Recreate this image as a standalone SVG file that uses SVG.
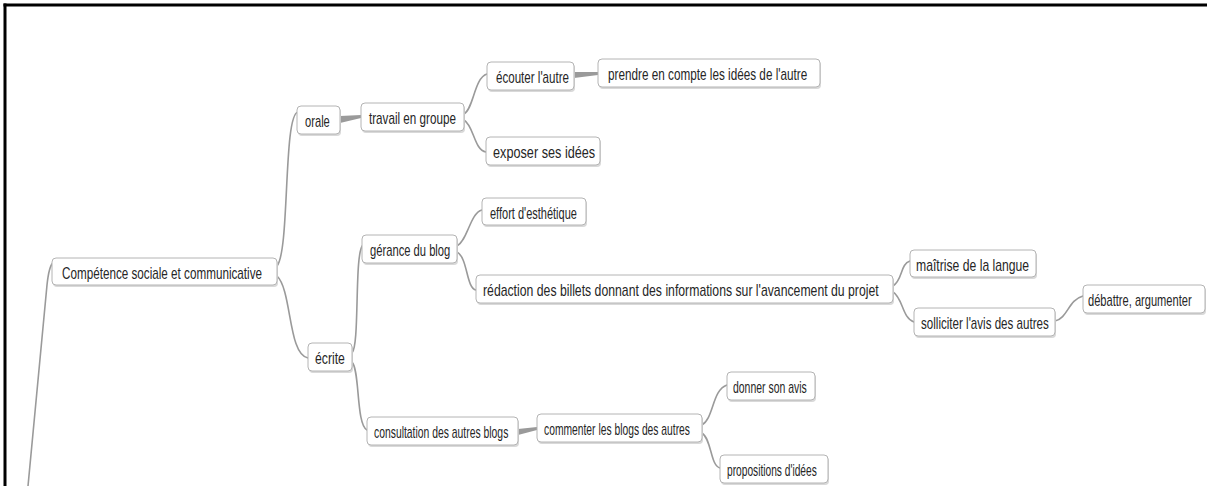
<svg xmlns="http://www.w3.org/2000/svg" width="1207" height="486" viewBox="0 0 1207 486">
<style>
.box{fill:#ffffff;stroke:#b4b4b4;stroke-width:1}
.sh{fill:#d9d9d9}
.t{font-family:"Liberation Sans",Arial,sans-serif;font-size:16px;fill:#262626}
.c{fill:none;stroke:#9a9a9a;stroke-width:1.6;stroke-linecap:round}
.w{fill:#9a9a9a}
.frame{stroke:#000;stroke-width:3}
</style>
<rect x="0" y="0" width="1207" height="486" fill="#fff"/>
<line class="frame" x1="5" y1="3.5" x2="5" y2="486"/>
<line class="frame" x1="3.5" y1="5" x2="1207" y2="5"/>
<g id="connectors">
<path class="c" d="M28,486 L47,285 Q49,266 53,263"/>
<path class="c" d="M277,266 C290,250 283,115 298,112"/>
<path class="c" d="M277,276 C292,290 288,355 308,358"/>
<path class="w" d="M340,116 L361,115 L361,118 L340,123 Z"/>
<path class="c" d="M464,114 C474,108 474,78 487,74"/>
<path class="c" d="M464,120 C474,126 474,150 486,152"/>
<path class="w" d="M574,72 L598,72 L598,75 L574,78 Z"/>
<path class="c" d="M352,353 C360,345 354,252 363,245"/>
<path class="c" d="M352,362 C360,370 356,425 367,430"/>
<path class="c" d="M457,246 C468,240 470,213 482,210"/>
<path class="c" d="M457,252 C468,258 466,288 476,290"/>
<path class="c" d="M893,286 C903,280 900,264 910,261"/>
<path class="c" d="M893,292 C903,298 902,318 914,322"/>
<path class="c" d="M1055,321 C1068,318 1068,300 1083,296"/>
<path class="w" d="M518,429 L537,427 L537,430 L518,435 Z"/>
<path class="c" d="M702,425 C714,418 712,390 727,385"/>
<path class="c" d="M702,433 C712,440 710,465 720,468"/>
</g>
<g id="n-root"><rect class="sh" x="53" y="260" width="225" height="27" rx="4"/><rect class="box" x="52" y="258" width="225" height="27" rx="4"/><text class="t" transform="translate(62,279) scale(0.73,1)" textLength="274" lengthAdjust="spacingAndGlyphs">Compétence sociale et communicative</text></g>
<g id="n-orale"><rect class="sh" x="298" y="108" width="43" height="28" rx="4"/><rect class="box" x="297" y="106" width="43" height="28" rx="4"/><text class="t" transform="translate(305,127) scale(0.73,1)" textLength="34" lengthAdjust="spacingAndGlyphs">orale</text></g>
<g id="n-travail"><rect class="sh" x="362" y="105" width="103" height="28" rx="4"/><rect class="box" x="361" y="103" width="103" height="28" rx="4"/><text class="t" transform="translate(369,124) scale(0.73,1)" textLength="119" lengthAdjust="spacingAndGlyphs">travail en groupe</text></g>
<g id="n-ecouter"><rect class="sh" x="488" y="64" width="87" height="28" rx="4"/><rect class="box" x="487" y="62" width="87" height="28" rx="4"/><text class="t" transform="translate(496,83) scale(0.73,1)" textLength="100" lengthAdjust="spacingAndGlyphs">écouter l'autre</text></g>
<g id="n-prendre"><rect class="sh" x="599" y="61" width="222" height="28" rx="4"/><rect class="box" x="598" y="59" width="222" height="28" rx="4"/><text class="t" transform="translate(608,80) scale(0.73,1)" textLength="273" lengthAdjust="spacingAndGlyphs">prendre en compte les idées de l'autre</text></g>
<g id="n-exposer"><rect class="sh" x="487" y="139" width="114" height="28" rx="4"/><rect class="box" x="486" y="137" width="114" height="28" rx="4"/><text class="t" transform="translate(493,158) scale(0.73,1)" textLength="140" lengthAdjust="spacingAndGlyphs">exposer ses idées</text></g>
<g id="n-ecrite"><rect class="sh" x="309" y="345" width="44" height="28" rx="4"/><rect class="box" x="308" y="343" width="44" height="28" rx="4"/><text class="t" transform="translate(315,364) scale(0.73,1)" textLength="41" lengthAdjust="spacingAndGlyphs">écrite</text></g>
<g id="n-gerance"><rect class="sh" x="363" y="237" width="95" height="28" rx="4"/><rect class="box" x="362" y="235" width="95" height="28" rx="4"/><text class="t" transform="translate(370,256) scale(0.73,1)" textLength="110" lengthAdjust="spacingAndGlyphs">gérance du blog</text></g>
<g id="n-effort"><rect class="sh" x="483" y="200" width="104" height="27" rx="4"/><rect class="box" x="482" y="198" width="104" height="27" rx="4"/><text class="t" transform="translate(490,219) scale(0.73,1)" textLength="119" lengthAdjust="spacingAndGlyphs">effort d'esthétique</text></g>
<g id="n-redaction"><rect class="sh" x="477" y="277" width="417" height="28" rx="4"/><rect class="box" x="476" y="275" width="417" height="28" rx="4"/><text class="t" transform="translate(483,296) scale(0.73,1)" textLength="542" lengthAdjust="spacingAndGlyphs">rédaction des billets donnant des informations sur l'avancement du projet</text></g>
<g id="n-maitrise"><rect class="sh" x="911" y="252" width="126" height="27" rx="4"/><rect class="box" x="910" y="250" width="126" height="27" rx="4"/><text class="t" transform="translate(916,271) scale(0.73,1)" textLength="155" lengthAdjust="spacingAndGlyphs">maîtrise de la langue</text></g>
<g id="n-solliciter"><rect class="sh" x="915" y="310" width="141" height="28" rx="4"/><rect class="box" x="914" y="308" width="141" height="28" rx="4"/><text class="t" transform="translate(921,329) scale(0.73,1)" textLength="175" lengthAdjust="spacingAndGlyphs">solliciter l'avis des autres</text></g>
<g id="n-debattre"><rect class="sh" x="1084" y="287" width="122" height="28" rx="4"/><rect class="box" x="1083" y="285" width="122" height="28" rx="4"/><text class="t" transform="translate(1088,306) scale(0.73,1)" textLength="142" lengthAdjust="spacingAndGlyphs">débattre, argumenter</text></g>
<g id="n-consultation"><rect class="sh" x="368" y="419" width="151" height="28" rx="4"/><rect class="box" x="367" y="417" width="151" height="28" rx="4"/><text class="t" transform="translate(374,438) scale(0.73,1)" textLength="184" lengthAdjust="spacingAndGlyphs">consultation des autres blogs</text></g>
<g id="n-commenter"><rect class="sh" x="538" y="416" width="165" height="28" rx="4"/><rect class="box" x="537" y="414" width="165" height="28" rx="4"/><text class="t" transform="translate(544,435) scale(0.73,1)" textLength="200" lengthAdjust="spacingAndGlyphs">commenter les blogs des autres</text></g>
<g id="n-donner"><rect class="sh" x="728" y="374" width="88" height="28" rx="4"/><rect class="box" x="727" y="372" width="88" height="28" rx="4"/><text class="t" transform="translate(733,393) scale(0.73,1)" textLength="101" lengthAdjust="spacingAndGlyphs">donner son avis</text></g>
<g id="n-propositions"><rect class="sh" x="721" y="457" width="108" height="28" rx="4"/><rect class="box" x="720" y="455" width="108" height="28" rx="4"/><text class="t" transform="translate(727,476) scale(0.73,1)" textLength="123" lengthAdjust="spacingAndGlyphs">propositions d'idées</text></g>
</svg>
